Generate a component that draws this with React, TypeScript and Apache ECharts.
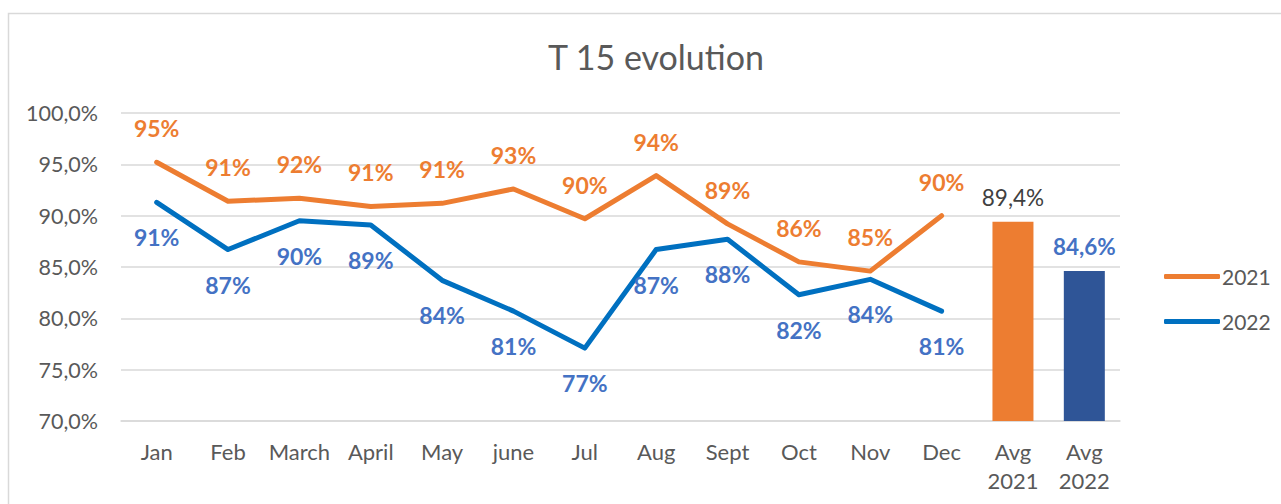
import React, { useEffect, useRef } from 'react';
import * as echarts from 'echarts';

const categories = ['Jan', 'Feb', 'March', 'April', 'May', 'june', 'Jul', 'Aug', 'Sept', 'Oct', 'Nov', 'Dec', 'Avg\n2021', 'Avg\n2022'];
const values2021 = [95.2, 91.4, 91.7, 90.9, 91.2, 92.6, 89.7, 93.9, 89.2, 85.5, 84.6, 90.0];
const values2022 = [91.3, 86.7, 89.5, 89.1, 83.7, 80.7, 77.1, 86.7, 87.7, 82.3, 83.8, 80.7];
const avgValues = [89.4, 84.6];
const yMin = 70;
const yMax = 100;
const yInterval = 5;

const FONT = 'Lato';
const ORANGE = '#ED7D31';
const BLUE_LINE = '#0070C0';
const BLUE_LABEL = '#4472C4';
const BLUE_BAR = '#2F5597';
const GREY = '#595959';

export default function App() {
  const ref = useRef<HTMLDivElement>(null);
  useEffect(() => {
    if (!ref.current) return;
    const chart = echarts.init(ref.current, null, { renderer: 'svg' });
    const barStyles = [
      { color: ORANGE, label: { color: '#404040', fontWeight: 'normal' } },
      { color: BLUE_BAR, label: { color: BLUE_LABEL, fontWeight: 'bold' } },
    ];
    const barData = categories.map((_, i) => {
      const k = i - values2021.length;
      if (k < 0) return '-';
      return {
        value: avgValues[k],
        itemStyle: { color: barStyles[k].color },
        label: {
          show: true,
          position: 'top',
          distance: 13,
          fontFamily: FONT,
          fontSize: 22.5,
          color: barStyles[k].label.color,
          fontWeight: barStyles[k].label.fontWeight,
          formatter: (p: any) => p.value.toFixed(1).replace('.', ',') + '%',
        },
      };
    });
    chart.setOption({
      animation: false,
      backgroundColor: '#ffffff',
      title: {
        text: 'T 15 evolution',
        left: 543,
        top: 34,
        textStyle: { fontFamily: FONT, fontSize: 34, fontWeight: 'normal', color: GREY },
      },
      graphic: [
        {
          type: 'rect',
          shape: { x: 8.5, y: 13.5, width: 1300, height: 520 },
          style: { fill: 'none', stroke: '#d9d9d9', lineWidth: 1.5 },
          silent: true,
        },
      ],
      legend: {
        orient: 'vertical',
        left: 1159,
        top: 261,
        itemWidth: 56,
        itemHeight: 5,
        itemGap: 24,
        icon: 'roundRect',
        textStyle: { fontFamily: FONT, fontSize: 21, color: GREY, padding: [0, 0, 0, -3] },
        data: ['2021', '2022'],
      },
      grid: { left: 121, right: 161, top: 113, bottom: 83, containLabel: false },
      xAxis: {
        type: 'category',
        data: categories,
        boundaryGap: true,
        axisLine: { show: true, lineStyle: { color: '#d9d9d9', width: 1.5 } },
        axisTick: { show: false },
        axisLabel: {
          fontFamily: FONT,
          fontSize: 22,
          color: GREY,
          lineHeight: 29,
          margin: 16,
          interval: 0,
        },
      },
      yAxis: {
        type: 'value',
        min: yMin,
        max: yMax,
        interval: yInterval,
        axisLine: { show: false },
        axisTick: { show: false },
        splitLine: { lineStyle: { color: '#d9d9d9', width: 1.5 } },
        axisLabel: {
          fontFamily: FONT,
          fontSize: 21.5,
          color: GREY,
          margin: 23,
          formatter: (v: number) => v.toFixed(1).replace('.', ',') + '%',
        },
      },
      series: [
        {
          name: '2021',
          type: 'line',
          data: values2021,
          color: ORANGE,
          symbol: 'circle',
          symbolSize: 1,
          showSymbol: true,
          lineStyle: { width: 5, color: ORANGE, cap: 'round', join: 'round' },
          itemStyle: { color: ORANGE },
          label: {
            show: true,
            position: 'top',
            distance: 22,
            fontFamily: FONT,
            fontSize: 23,
            fontWeight: 'bold',
            color: ORANGE,
            formatter: (p: any) => Math.round(p.value) + '%',
          },
          z: 3,
        },
        {
          name: '2022',
          type: 'line',
          data: values2022,
          color: BLUE_LINE,
          symbol: 'circle',
          symbolSize: 1,
          showSymbol: true,
          lineStyle: { width: 5, color: BLUE_LINE, cap: 'round', join: 'round' },
          itemStyle: { color: BLUE_LINE },
          label: {
            show: true,
            position: 'bottom',
            distance: 23,
            fontFamily: FONT,
            fontSize: 23,
            fontWeight: 'bold',
            color: BLUE_LABEL,
            formatter: (p: any) => Math.round(p.value) + '%',
          },
          z: 3,
        },
        {
          name: 'avg',
          type: 'bar',
          data: barData,
          barWidth: 41,
          z: 2,
        },
      ],
    });
    return () => chart.dispose();
  }, []);
  return (
    <div
      ref={ref}
      style={{ position: 'absolute', left: 0, top: 0, width: 1281, height: 504 }}
    />
  );
}
